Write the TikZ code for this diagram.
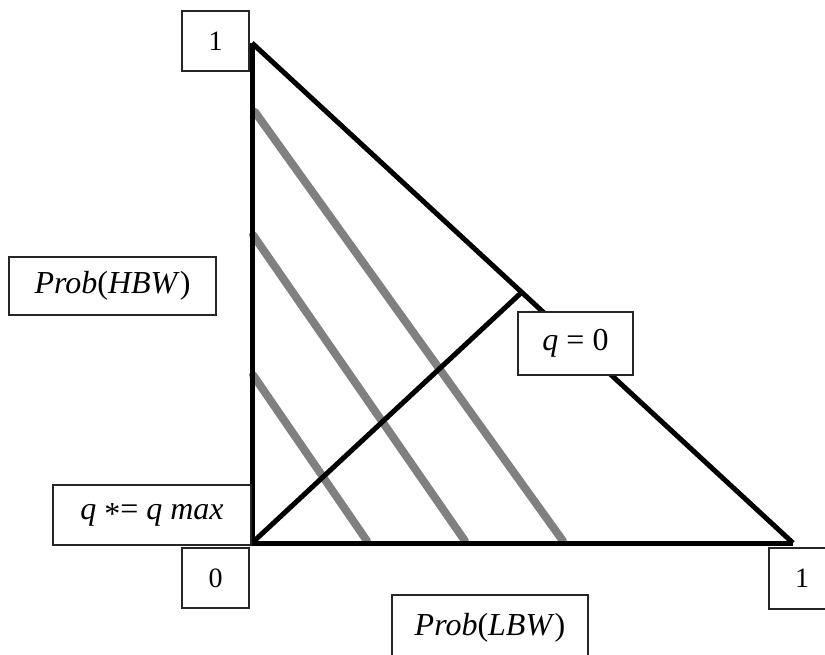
\documentclass[tikz,border=0pt]{standalone}
\usepackage{fontspec}
\setmainfont{Liberation Serif}
\begin{document}
\begin{tikzpicture}[x=1pt,y=-1pt,
  lbl/.style={draw=black!85,line width=1.6pt,fill=white,inner sep=0pt,font=\fontsize{32}{38}\selectfont},
  num/.style={lbl,font=\fontsize{28}{34}\selectfont,minimum width=67pt,minimum height=60pt},
  axis/.style={line width=5pt,black},
  iso/.style={line width=8pt,black!50,line cap=round}]
\useasboundingbox (0,0) rectangle (825,655);
\clip (0,0) rectangle (825,655);
% corner coordinates
\coordinate (O) at (252,543);
\coordinate (T) at (252,43);
\coordinate (R) at (793,543);
\coordinate (M) at (522,292);
\coordinate (g1a) at (255,112);
\coordinate (g1b) at (563,541);
\coordinate (g2a) at (253,235);
\coordinate (g2b) at (465,541);
\coordinate (g3a) at (253,375);
\coordinate (g3b) at (367,541);
% gray lines
\draw[iso] (g1a) -- (g1b);
\draw[iso] (g2a) -- (g2b);
\draw[iso] (g3a) -- (g3b);
% triangle
\draw[axis] (O) -- (T);
\draw[axis] (T) -- (R);
\draw[axis] (O) -- (R);
\draw[axis] (O) -- (M);
% labels
\node[num] (one1) at (215.5,41) {1};
\node[lbl,minimum width=207pt,minimum height=58pt] (hbw) at (112.5,286) {\textit{Prob}(\textit{HBW})};
\node[lbl,minimum width=115pt,minimum height=63pt] (q0) at (575.5,343.5) {\textit{q} = 0};
\node[lbl,minimum width=198pt,minimum height=60pt] (qmax) at (152,515) {\textit{q} \raisebox{-0.3ex}{*}= \textit{q max}};
\node[num] (zero) at (215.5,578) {0};
\node[num,minimum width=66pt,minimum height=61pt] (one2) at (802,578.5) {1};
\node[lbl,minimum width=196pt,minimum height=66pt] (lbw) at (490,628) {\textit{Prob}(\textit{LBW})};
\end{tikzpicture}
\end{document}
